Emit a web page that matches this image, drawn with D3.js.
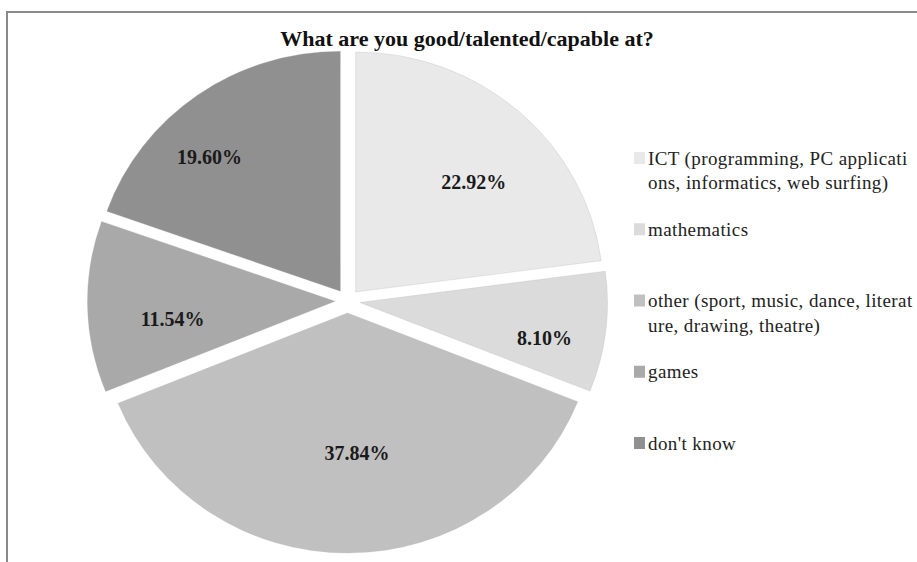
<!DOCTYPE html>
<html>
<head>
<meta charset="utf-8">
<script src="https://cdn.jsdelivr.net/npm/d3@7"></script>
<style>
  body { margin: 0; background: #fff; }
  svg { display: block; }
</style>
</head>
<body>
<svg id="chart" width="917" height="562"></svg>
<script>
// data
const categories = ["ICT", "mathematics", "other", "games", "don't know"];
const legendLines = [
  ["ICT (programming, PC applicati", "ons, informatics, web surfing)"],
  ["mathematics"],
  ["other (sport, music, dance, literat", "ure, drawing, theatre)"],
  ["games"],
  ["don't know"]
];
const values = [22.92, 8.10, 37.84, 11.54, 19.60];
const sliceColors = ["#e9e9e9", "#dbdbdb", "#c0c0c0", "#a9a9a9", "#909090"];
const title = "What are you good/talented/capable at?";

const serif = "'Liberation Serif', 'Times New Roman', serif";
const svg = d3.select("#chart");

// chart frame (runs off the right and bottom of the picture)
svg.append("rect")
  .attr("x", 7).attr("y", 12)
  .attr("width", 960).attr("height", 600)
  .attr("fill", "#fff")
  .attr("stroke", "#8a8a8a")
  .attr("stroke-width", 2);

svg.append("text")
  .attr("x", 467).attr("y", 46)
  .attr("text-anchor", "middle")
  .attr("font-family", serif)
  .attr("font-weight", "bold")
  .attr("font-size", 22)
  .attr("fill", "#111")
  .text(title);

// pie geometry
const cx = 347.5, cy = 301;
const radius = 240;
const explode = 12;
const sx = 1.032; // picture is a little wider than tall

const pie = d3.pie().sort(null).value(d => d)
  .startAngle(0).endAngle(2 * Math.PI);
const arcs = pie(values);
const arc = d3.arc().innerRadius(0).outerRadius(radius);

const g = svg.append("g")
  .attr("transform", `translate(${cx},${cy}) scale(${sx},1)`);

g.selectAll("path")
  .data(arcs)
  .join("path")
  .attr("transform", d => {
    const a = (d.startAngle + d.endAngle) / 2;
    return `translate(${explode * Math.sin(a)},${-explode * Math.cos(a)})`;
  })
  .attr("d", arc)
  .attr("fill", (d, i) => sliceColors[i])
  .attr("stroke", "#b5b5b5")
  .attr("stroke-opacity", 0.35)
  .attr("stroke-width", 0.8);

// data labels (Excel best-fit placement, tuned per slice)
const labelRadius = [0.66, 0.76, 0.585, 0.66, 0.77];
const labelTurn = [5, 4, -3.5, -5, -8];
svg.append("g")
  .selectAll("text")
  .data(arcs)
  .join("text")
  .attr("x", (d, i) => {
    const a = (d.startAngle + d.endAngle) / 2;
    const b = a + labelTurn[i] * Math.PI / 180;
    return cx + sx * (explode * Math.sin(a) + labelRadius[i] * radius * Math.sin(b));
  })
  .attr("y", (d, i) => {
    const a = (d.startAngle + d.endAngle) / 2;
    const b = a + labelTurn[i] * Math.PI / 180;
    return cy - explode * Math.cos(a) - labelRadius[i] * radius * Math.cos(b);
  })
  .attr("dy", "0.35em")
  .attr("text-anchor", "middle")
  .attr("font-family", serif)
  .attr("font-weight", "bold")
  .attr("font-size", 20)
  .attr("fill", "#1a1a1a")
  .text(d => d3.format(".2f")(d.data) + "%");

// legend
const ly = d3.scalePoint().domain(categories).range([158, 443]);
const legend = svg.append("g")
  .selectAll("g")
  .data(categories)
  .join("g")
  .attr("transform", d => `translate(634,${ly(d)})`);

legend.append("rect")
  .attr("x", 0).attr("y", -6)
  .attr("width", 11).attr("height", 12)
  .attr("fill", (d, i) => sliceColors[i]);

legend.append("text")
  .attr("font-family", serif)
  .attr("font-size", 19)
  .attr("letter-spacing", 0.4)
  .attr("fill", "#222")
  .selectAll("tspan")
  .data((d, i) => legendLines[i])
  .join("tspan")
  .attr("x", 14)
  .attr("y", (t, j) => j * 24.5)
  .attr("dy", "0.35em")
  .text(t => t);
</script>
</body>
</html>
